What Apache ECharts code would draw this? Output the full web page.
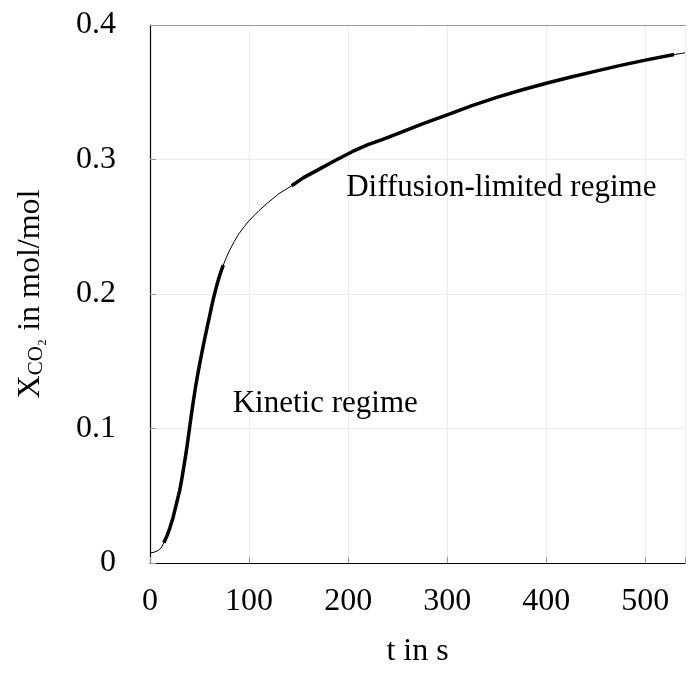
<!DOCTYPE html>
<html>
<head>
<meta charset="utf-8">
<script src="https://cdn.jsdelivr.net/npm/echarts@6/dist/echarts.min.js"></script>
<style>html,body{margin:0;padding:0;background:#fff}#c{width:688px;height:673px}</style>
</head>
<body>
<div id="c"></div>
<script>
// time in s
var tValues = [0, 4, 8, 11, 14, 17, 20, 23, 26, 28, 30, 32, 34, 36, 38, 40, 42, 44, 46, 48, 50, 52, 54, 56, 58, 60, 62, 64, 66, 68, 70, 72, 74, 77, 80, 85, 90, 95, 100, 110, 120, 130, 143, 155, 170, 185, 204, 220, 237, 250, 275, 300, 325, 350, 375, 400, 425, 450, 475, 500, 529, 540];
// X_CO2 in mol/mol
var xValues = [0.0075, 0.0080, 0.0092, 0.0110, 0.0150, 0.0200, 0.0260, 0.0330, 0.0420, 0.0480, 0.0540, 0.0620, 0.0710, 0.0800, 0.0900, 0.1010, 0.1115, 0.1215, 0.1310, 0.1395, 0.1475, 0.1550, 0.1625, 0.1695, 0.1765, 0.1830, 0.1900, 0.1965, 0.2025, 0.2080, 0.2130, 0.2175, 0.2215, 0.2270, 0.2320, 0.2390, 0.2450, 0.2500, 0.2545, 0.2620, 0.2685, 0.2745, 0.2805, 0.2865, 0.2925, 0.2985, 0.3058, 0.3110, 0.3156, 0.3193, 0.3265, 0.3332, 0.3400, 0.3462, 0.3517, 0.3567, 0.3613, 0.3657, 0.3700, 0.3739, 0.3780, 0.3793];
// highlighted regime ranges (s)
var kineticRange = [14, 74];
var diffusionRange = [143, 529];
var xTicks = [0, 100, 200, 300, 400, 500];
var yTicks = [0, 0.1, 0.2, 0.3, 0.4];
var annotations = [
  {text: 'Kinetic regime', t: 83.5, x: 0.118},
  {text: 'Diffusion-limited regime', t: 198, x: 0.279}
];

function pairs(lo, hi) {
  var out = [];
  for (var i = 0; i < tValues.length; i++) {
    if (tValues[i] >= lo && tValues[i] <= hi) out.push([tValues[i], xValues[i]]);
  }
  return out;
}
var full = pairs(-1, 1e9);
var FONT = 'Liberation Serif';
var chart = echarts.init(document.getElementById('c'), null, {renderer: 'canvas'});
chart.setOption({
  animation: false,
  backgroundColor: '#fff',
  grid: {left: 150, right: 0, top: 25, bottom: 103, containLabel: false},
  xAxis: [{
    type: 'value', min: 0, max: 540, interval: 100,
    name: 't in s', nameLocation: 'middle', nameGap: 73,
    nameTextStyle: {fontFamily: FONT, fontSize: 32, color: '#000'},
    axisLine: {show: true, lineStyle: {color: '#000', width: 1.2}},
    axisTick: {show: true, inside: true, length: 6, lineStyle: {color: '#999'}},
    axisLabel: {fontFamily: FONT, fontSize: 32, color: '#000', margin: 23,
      formatter: function (v) { return xTicks.indexOf(v) >= 0 ? String(v) : ''; }},
    splitLine: {show: true, lineStyle: {color: '#ececec', width: 1}}
  }, {
    type: 'value', position: 'top', min: 0, max: 540,
    axisLine: {show: true, onZero: false, lineStyle: {color: '#999', width: 1}},
    axisTick: {show: false}, axisLabel: {show: false}, splitLine: {show: false}
  }],
  yAxis: {
    type: 'value', min: 0, max: 0.4, interval: 0.1,
    name: '{a|X}{s|CO₂}{a| in mol/mol}', nameLocation: 'middle', nameGap: 103, nameRotate: 90,
    nameTextStyle: {
      fontFamily: FONT, color: '#000',
      rich: {
        a: {fontFamily: FONT, fontSize: 32, color: '#000', verticalAlign: 'bottom', lineHeight: 34},
        s: {fontFamily: FONT, fontSize: 21, color: '#000', verticalAlign: 'bottom', lineHeight: 34}
      }
    },
    axisLine: {show: true, lineStyle: {color: '#000', width: 1.2}},
    axisTick: {show: true, inside: true, length: 6, lineStyle: {color: '#999'}},
    axisLabel: {fontFamily: FONT, fontSize: 32, color: '#000', margin: 34,
      formatter: function (v) { var r = Math.round(v * 10) / 10; return yTicks.indexOf(r) >= 0 ? String(r) : ''; }},
    splitLine: {show: true, lineStyle: {color: '#ececec', width: 1}}
  },
  series: [{
    type: 'line', data: full, showSymbol: false, smooth: false,
    lineStyle: {color: '#000', width: 1}, z: 3, clip: true,
    markPoint: {
      symbol: 'circle', symbolSize: 0,
      label: {show: true, position: 'right', distance: 0, fontFamily: FONT, fontSize: 31, color: '#000',
        formatter: function (p) { return p.name; }},
      data: annotations.map(function (a) { return {name: a.text, coord: [a.t, a.x], value: a.text}; })
    }
  }, {
    type: 'line', data: pairs(kineticRange[0], kineticRange[1]), showSymbol: false, smooth: false,
    lineStyle: {color: '#000', width: 3.5, cap: 'butt', join: 'round'}, z: 4
  }, {
    type: 'line', data: pairs(diffusionRange[0], diffusionRange[1]), showSymbol: false, smooth: false,
    lineStyle: {color: '#000', width: 3.5, cap: 'butt', join: 'round'}, z: 4
  }]
});
</script>
</body>
</html>
